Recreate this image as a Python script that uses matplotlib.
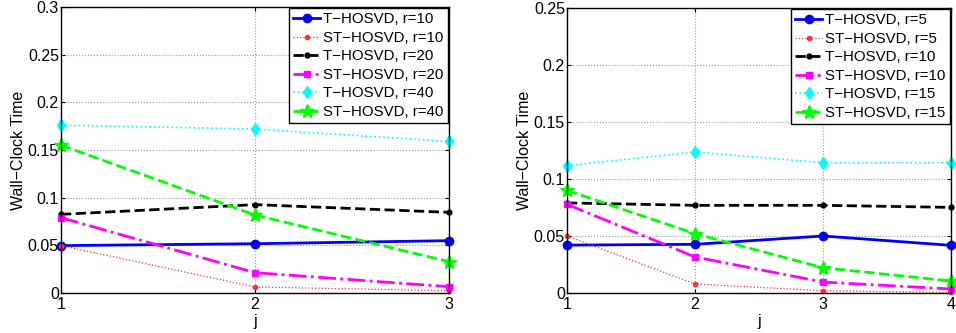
import matplotlib
matplotlib.use("Agg")
import matplotlib.pyplot as plt
from matplotlib.ticker import FixedLocator, FuncFormatter

plt.rcParams['font.family'] = ['Liberation Sans', 'DejaVu Sans']

# Left panel data
j_left = [1, 2, 3]
left_t_r10 = [0.0497, 0.0517, 0.0549]
left_st_r10 = [0.0497, 0.0063, 0.0024]
left_t_r20 = [0.0825, 0.0927, 0.0846]
left_st_r20 = [0.0790, 0.0213, 0.0066]
left_t_r40 = [0.176, 0.172, 0.159]
left_st_r40 = [0.155, 0.0818, 0.0329]
left_labels = ["T\u2212HOSVD, r=10", "ST\u2212HOSVD, r=10", "T\u2212HOSVD, r=20",
               "ST\u2212HOSVD, r=20", "T\u2212HOSVD, r=40", "ST\u2212HOSVD, r=40"]
left_yticks = [0, 0.05, 0.1, 0.15, 0.2, 0.25, 0.3]

# Right panel data
j_right = [1, 2, 3, 4]
right_t_r5 = [0.0420, 0.0427, 0.0500, 0.0418]
right_st_r5 = [0.0500, 0.0079, 0.0020, 0.0006]
right_t_r10 = [0.0790, 0.0769, 0.0769, 0.0751]
right_st_r10 = [0.0778, 0.0316, 0.0096, 0.0035]
right_t_r15 = [0.1117, 0.1237, 0.1143, 0.1143]
right_st_r15 = [0.0900, 0.0520, 0.0222, 0.0105]
right_labels = ["T\u2212HOSVD, r=5", "ST\u2212HOSVD, r=5", "T\u2212HOSVD, r=10",
                "ST\u2212HOSVD, r=10", "T\u2212HOSVD, r=15", "ST\u2212HOSVD, r=15"]
right_yticks = [0, 0.05, 0.1, 0.15, 0.2, 0.25]

styles = [
    dict(color='#0000ff', linestyle='-', linewidth=2.0, marker='o', markersize=6),
    dict(color='#ff3030', linestyle=':', linewidth=0.9, marker='.', markersize=6),
    dict(color='#000000', linestyle='--', linewidth=2.0, marker='.', markersize=7),
    dict(color='#ff00ff', linestyle='-.', linewidth=2.0, marker='s', markersize=5),
    dict(color='#00ffff', linestyle=':', linewidth=1.2, marker='d', markersize=6),
    dict(color='#00ff00', linestyle='--', linewidth=2.0, marker='*', markersize=10),
]

W, H = 956, 333
fig = plt.figure(figsize=(W / 100, H / 100), dpi=100)
FS = 11.5
LFS = 10.8

def fmt(v, pos):
    return ("%g" % round(v, 4))

def make_panel(rect, xs, series, labels, yticks, ymax):
    ax = fig.add_axes(rect)
    for ys, st, lab in zip(series, styles, labels):
        ax.plot(xs, ys, label=lab, clip_on=False, **st)
    ax.set_xlim(xs[0], xs[-1])
    ax.set_ylim(0, ymax)
    ax.xaxis.set_major_locator(FixedLocator(xs))
    ax.yaxis.set_major_locator(FixedLocator(yticks))
    ax.yaxis.set_major_formatter(FuncFormatter(fmt))
    ax.grid(True, linestyle=':', color='#999999', linewidth=0.8)
    ax.tick_params(axis='y', direction='in', labelsize=FS, length=3, right=True, pad=1.5)
    ax.tick_params(axis='x', direction='in', labelsize=FS, length=3, top=True, pad=3)
    for sp in ax.spines.values():
        sp.set_linewidth(1.0)
    ax.set_xlabel('j', fontsize=FS, labelpad=1)
    ax.set_ylabel('Wall\u2212Clock Time', fontsize=FS, labelpad=1.5)
    leg = ax.legend(loc='upper right', fontsize=LFS, frameon=True, fancybox=False,
                    framealpha=1, edgecolor='black', handlelength=1.8,
                    handletextpad=0.2, borderpad=0.3, labelspacing=0.3,
                    borderaxespad=0.05)
    leg.get_frame().set_linewidth(1.0)
    return ax

# Left axes: x 61..449, y 7..293
make_panel([61 / W, 1 - 293 / H, 388 / W, 286 / H], j_left,
           [left_t_r10, left_st_r10, left_t_r20, left_st_r20, left_t_r40, left_st_r40],
           left_labels, left_yticks, 0.3)
# Right axes: x 567..951, y 8..293
make_panel([567 / W, 1 - 293 / H, 384 / W, 285 / H], j_right,
           [right_t_r5, right_st_r5, right_t_r10, right_st_r10, right_t_r15, right_st_r15],
           right_labels, right_yticks, 0.25)

fig.savefig('out.png', dpi=100)
